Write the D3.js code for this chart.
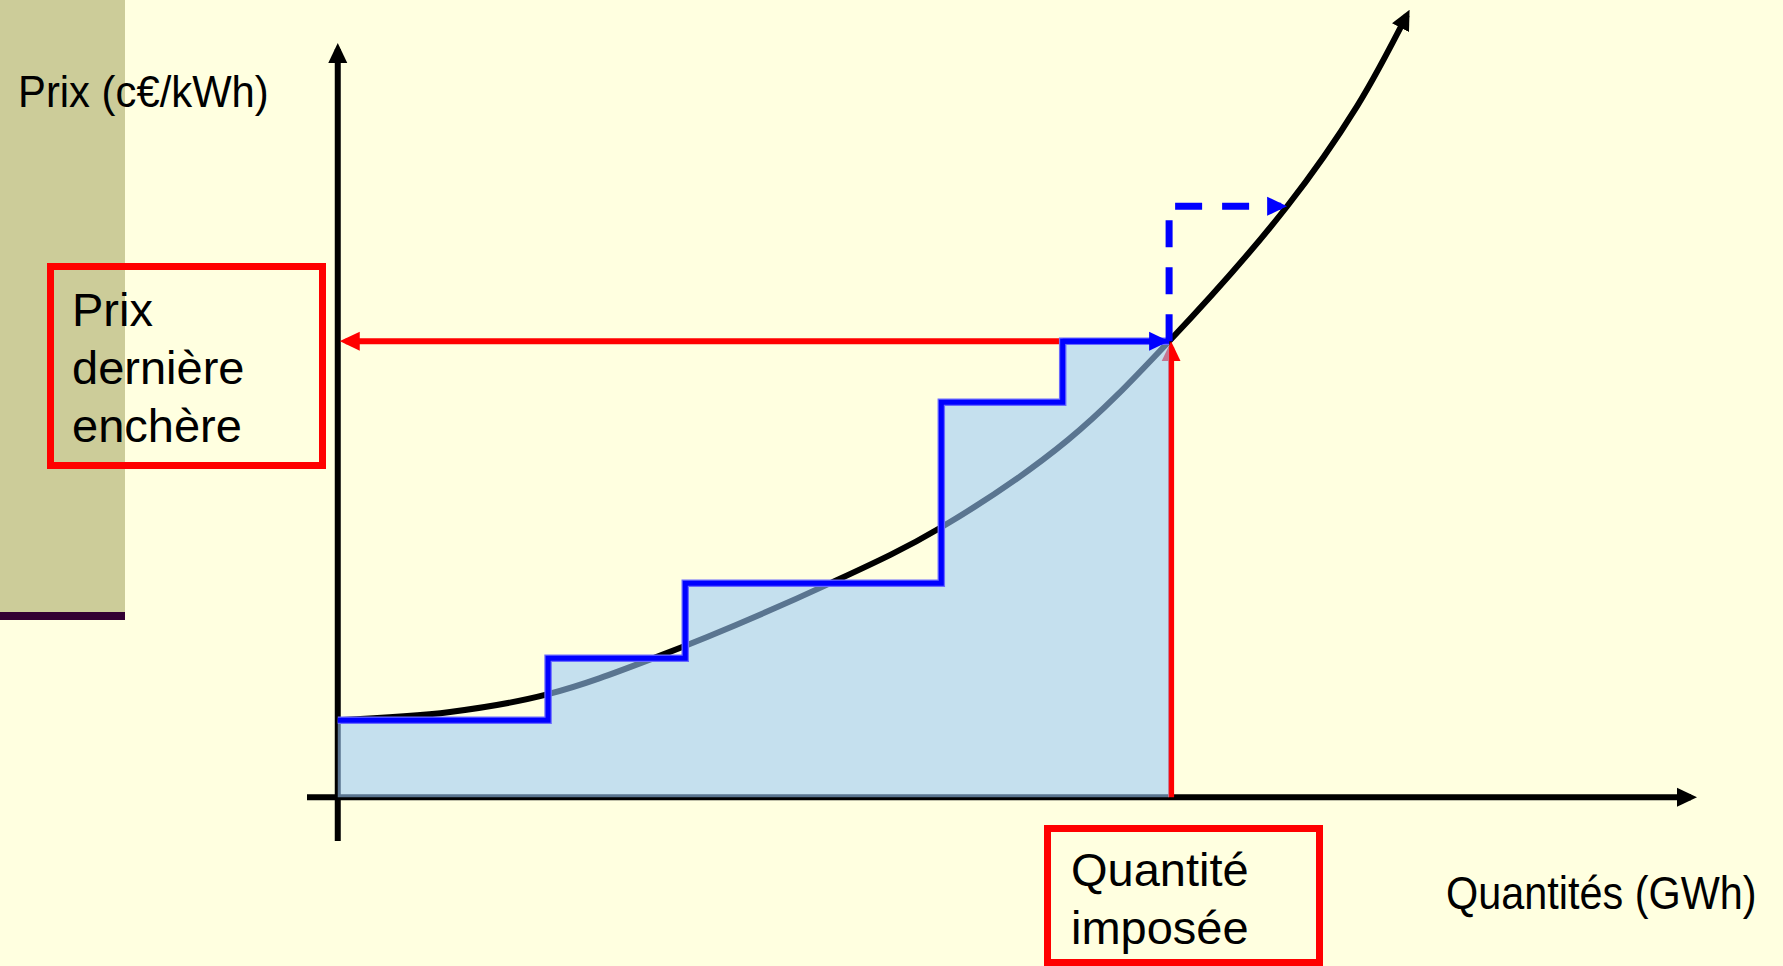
<!DOCTYPE html>
<html>
<head>
<meta charset="utf-8">
<script src="https://cdn.jsdelivr.net/npm/d3@7"></script>
<style>
html, body { margin: 0; padding: 0; background: #ffffe0; overflow: hidden; }
text { font-family: "Liberation Sans", Arial, sans-serif; fill: #000; }
</style>
</head>
<body>
<div id="container"></div>
<script>
(function () {
	var W = 1783, H = 966;

	// axis extents (arbitrary units, 0 = origin)
	var qtyDomain = [-3.7, 163.5],
		priceDomain = [-9.6, 165.4];

	// bid steps: quantity where each step starts, and its price
	var stepQty = [0, 25.3, 41.8, 72.6, 87.2, 100];
	var stepPrice = [16.9, 30.5, 46.9, 86.6, 100, 100];

	// supply curve
	var curveQty = [0, 13.5, 25.3, 38, 59.2, 72.6, 87.8, 100, 114.2, 122.6, 128.6];
	var curvePrice = [16.9, 18.7, 22.6, 30.5, 46.9, 59.2, 78.3, 100, 129.6, 151.5, 171.5];

	// imposed quantity / last auction price, and the shifted point on the curve
	var lastQty = 100, lastPrice = 100;
	var shiftQty = 114.2, shiftPrice = 129.6;

	// texts
	var yLabel = "Prix (c€/kWh)",
		xLabel = "Quantités (GWh)",
		priceBox = ["Prix", "dernière", "enchère"],
		qtyBox = ["Quantité", "imposée"];

	// scales
	var x = d3.scaleLinear().domain(qtyDomain).range([307, 1697]);
	var y = d3.scaleLinear().domain(priceDomain).range([841, 43]);

	var svg = d3.select("#container").append("svg")
		.attr("width", W)
		.attr("height", H);

	// arrow heads
	var defs = svg.append("defs");
	[["black", "#000"], ["red", "#ff0000"], ["blue", "#0000ff"]].forEach(function (c) {
		defs.append("marker")
			.attr("id", "arrow-" + c[0])
			.attr("markerUnits", "userSpaceOnUse")
			.attr("viewBox", "0 0 20 20")
			.attr("markerWidth", 20)
			.attr("markerHeight", 20)
			.attr("refX", 14)
			.attr("refY", 10)
			.attr("orient", "auto")
		.append("path")
			.attr("d", "M0,0.5L20,10L0,19.5Z")
			.attr("fill", c[1]);
	});

	// background + left band
	svg.append("rect").attr("width", W).attr("height", H).attr("fill", "#ffffe0");
	svg.append("rect").attr("x", 0).attr("y", 0).attr("width", 125).attr("height", 612).attr("fill", "#cccc99");
	svg.append("rect").attr("x", 0).attr("y", 612).attr("width", 125).attr("height", 8).attr("fill", "#330033");

	// straight arrow, shortened so that the marker tip lands on the end point
	function arrow(x1, y1, x2, y2, color, name, width) {
		var dx = x2 - x1, dy = y2 - y1, len = Math.sqrt(dx * dx + dy * dy);
		var ex = x2 - 6 * dx / len, ey = y2 - 6 * dy / len;
		return svg.append("path")
			.attr("d", "M" + x1 + "," + y1 + "L" + ex + "," + ey)
			.attr("fill", "none")
			.attr("stroke", color)
			.attr("stroke-width", width)
			.attr("marker-end", "url(#arrow-" + name + ")");
	}

	// axes
	arrow(x(qtyDomain[0]), y(0), x(qtyDomain[1]), y(0), "#000", "black", 6);
	arrow(x(0), y(priceDomain[0]), x(0), y(priceDomain[1]), "#000", "black", 6);

	// supply curve
	var curveData = curveQty.map(function (q, i) { return [q, curvePrice[i]]; });
	svg.append("path")
		.datum(curveData)
		.attr("fill", "none")
		.attr("stroke", "#000")
		.attr("stroke-width", 6)
		.attr("marker-end", "url(#arrow-black)")
		.attr("d", d3.line()
			.x(function (d) { return x(d[0]); })
			.y(function (d) { return y(d[1]); })
			.curve(d3.curveCatmullRom.alpha(0.5)));

	// red arrows: price to the axis, quantity up to the price
	arrow(x(lastQty), y(lastPrice), x(0) + 2, y(lastPrice), "#ff0000", "red", 6);
	arrow(x(lastQty) + 2, y(0), x(lastQty) + 2, y(lastPrice), "#ff0000", "red", 6);

	// filled bid area
	var stepData = stepQty.map(function (q, i) { return [q, stepPrice[i]]; });
	svg.append("path")
		.datum(stepData)
		.attr("fill", "rgba(155,202,248,0.58)")
		.attr("d", d3.area()
			.x(function (d) { return x(d[0]); })
			.y0(y(0))
			.y1(function (d) { return y(d[1]); })
			.curve(d3.curveStepAfter));

	// step outline
	var stepLine = d3.line()
		.x(function (d) { return x(d[0]); })
		.y(function (d) { return y(d[1]); })
		.curve(d3.curveStepAfter);
	svg.append("path")
		.datum(stepData)
		.attr("fill", "none")
		.attr("stroke", "#6a6aff")
		.attr("stroke-width", 7.5)
		.attr("d", stepLine);
	svg.append("path")
		.datum(stepData)
		.attr("fill", "none")
		.attr("stroke", "#0000ff")
		.attr("stroke-width", 5)
		.attr("d", stepLine);
	var n = stepQty.length;
	arrow(x(stepQty[n - 2]), y(stepPrice[n - 2]), x(lastQty), y(lastPrice), "#0000ff", "blue", 5);

	// dashed shift to the curve
	var cx = x(lastQty), cy = y(shiftPrice), tx = x(shiftQty);
	svg.append("path")
		.attr("d", "M" + cx + "," + y(lastPrice) + "V" + cy + "H" + (tx - 6))
		.attr("fill", "none")
		.attr("stroke", "#0000ff")
		.attr("stroke-width", 7)
		.attr("stroke-dasharray", "27,20")
		.attr("marker-end", "url(#arrow-blue)");

	// axis labels (slightly condensed, like the original)
	svg.append("text")
		.attr("transform", "translate(18,107) scale(0.95,1)")
		.style("font-size", "44px")
		.text(yLabel);
	svg.append("text")
		.attr("transform", "translate(1446,909) scale(0.9,1)")
		.style("font-size", "46px")
		.text(xLabel);

	// red boxes
	svg.append("rect")
		.attr("x", 50.5).attr("y", 266.5).attr("width", 272).attr("height", 199)
		.attr("fill", "none").attr("stroke", "#ff0000").attr("stroke-width", 7);
	svg.selectAll(".pbox").data(priceBox).enter().append("text")
		.attr("class", "pbox")
		.attr("x", 72)
		.attr("y", function (d, i) { return 326 + i * 58; })
		.style("font-size", "47px")
		.text(function (d) { return d; });

	svg.append("rect")
		.attr("x", 1047.5).attr("y", 828.5).attr("width", 272).attr("height", 134)
		.attr("fill", "none").attr("stroke", "#ff0000").attr("stroke-width", 7);
	svg.selectAll(".qbox").data(qtyBox).enter().append("text")
		.attr("class", "qbox")
		.attr("x", 1071)
		.attr("y", function (d, i) { return 886 + i * 58; })
		.style("font-size", "47px")
		.text(function (d) { return d; });
})();
</script>
</body>
</html>
